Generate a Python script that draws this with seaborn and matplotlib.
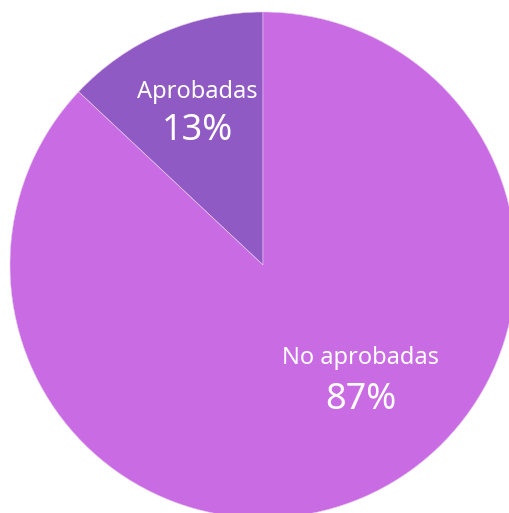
import numpy as np
import matplotlib
matplotlib.use("Agg")
import matplotlib.pyplot as plt
import seaborn as sns

# Data
categories = ["Aprobadas", "No aprobadas"]
shares = [13, 87]
colors = ["#905ac4", "#c96be3"]

sns.set_theme(style="white")
plt.rcParams['font.family'] = ['Noto Sans', 'DejaVu Sans']

W, H = 510, 513
cx, cy, r = 263, 265, 253  # pie centre and radius in pixels

fig = plt.figure(figsize=(W / 100, H / 100), dpi=100)
ax = fig.add_axes([0, 0, 1, 1])

wedges, _ = ax.pie(shares, colors=colors, startangle=90, counterclock=True,
                   radius=1, center=(0, 0), frame=False,
                   wedgeprops=dict(edgecolor='#e6c8f0', linewidth=0.4))
ax.set_xlim(-cx / r, (W - cx) / r)
ax.set_ylim(-(H - cy) / r, cy / r)
ax.set_aspect('equal')
ax.axis('off')

# label positions (data units)
label_pos = [(-0.261, 0.684, 0.528), (0.387, -0.368, -0.532)]
for cat, val, (x, y1, y2) in zip(categories, shares, label_pos):
    ax.text(x, y1, cat, ha='center', va='center', color='white', fontsize=17)
    ax.text(x, y2, f"{val}%", ha='center', va='center', color='white', fontsize=26)

fig.savefig("out.png", dpi=100)
